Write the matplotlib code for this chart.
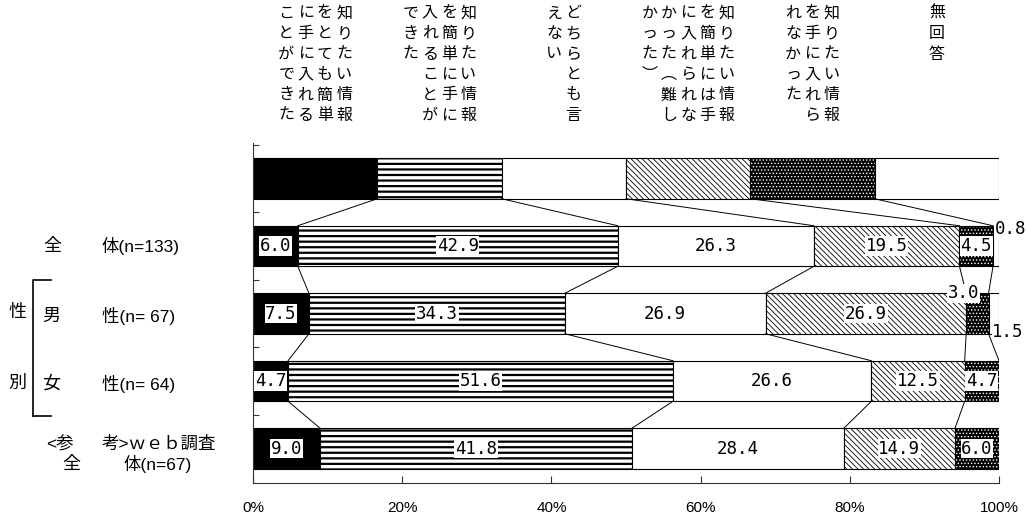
import numpy as np
import matplotlib.pyplot as plt

plt.rcParams['font.family'] = ['Noto Sans CJK JP', 'DejaVu Sans']

# answers (%), rows: 全体, 男性, 女性, web調査全体
very_easy = [6.0, 7.5, 4.7, 9.0]
easy = [42.9, 34.3, 51.6, 41.8]
neither = [26.3, 26.9, 26.6, 28.4]
hard = [19.5, 26.9, 12.5, 14.9]
failed = [4.5, 3.0, 4.7, 6.0]
no_answer = [0.8, 1.5, 0.0, 0.0]
series = [very_easy, easy, neither, hard, failed, no_answer]

headers = [
    "知りたい情報をとても簡単に手に入れることができた",
    "知りたい情報を簡単に手に入れることができた",
    "どちらとも言えない",
    "知りたい情報を簡単には手に入れられなかった︵難しかった︶",
    "知りたい情報を手に入れられなかった",
    "無回答",
]
xticks = [0, 20, 40, 60, 80, 100]
xtick_labels = ["0%", "20%", "40%", "60%", "80%", "100%"]

# face, hatch, hatch colour, hatch width
styles = [
    ("black", None, "black", 1.0),
    ("white", "---", "black", 1.6),
    ("white", None, "black", 1.0),
    ("white", "\\\\\\\\\\\\", "black", 0.6),
    ("black", ".....", "white", 0.6),
    ("white", None, "black", 1.0),
]

W, H = 1026, 518
fig = plt.figure(figsize=(W / 100, H / 100), dpi=100)
ax = fig.add_axes([253 / W, 35 / H, 746 / W, 340 / H])

n = len(series)
ypos = np.arange(len(very_easy) + 1)  # row 0 = legend bar
full = np.array([[100 / n] + list(s) for s in series])
cum = np.minimum(np.cumsum(full, axis=0), 100)
left = np.vstack([np.zeros(len(ypos)), cum[:-1]])
width = cum - left
bh = 0.6

for i, (face, hatch, hcol, hlw) in enumerate(styles):
    bars = ax.barh(ypos, width[i], left=left[i], height=bh, color=face,
                   edgecolor=hcol, linewidth=0, hatch=hatch)
    for b in bars:
        if hasattr(b, "set_hatch_linewidth"):
            b.set_hatch_linewidth(hlw)
    ax.barh(ypos, width[i], left=left[i], height=bh, fill=False,
            edgecolor="black", linewidth=0.8)

# connector lines between bars
for r in range(len(ypos) - 1):
    for k in range(n):
        ax.plot([cum[k, r], cum[k, r + 1]], [r + bh / 2, r + 1 - bh / 2],
                color="black", lw=0.7)

# value labels
special = {(1, 5): (99.4, 0.75, "left"), (2, 4): (95.3, 1.70, "center"),
           (2, 5): (99.1, 2.27, "left")}
for i, s in enumerate(series):
    for j, v in enumerate(s):
        r = j + 1
        if v == 0:
            continue
        x, y, ha = left[i, r] + width[i, r] / 2, r, "center"
        if (r, i) in special:
            x, y, ha = special[(r, i)]
        ax.text(x, y, f"{v:.1f}", ha=ha, va="center", fontsize=12.5,
                family="DejaVu Sans Mono",
                bbox=dict(facecolor="white", edgecolor="none", pad=0.5))

ax.set_xlim(0, 100)
ax.set_ylim(4.511, -0.526)
ax.set_xticks(xticks)
ax.set_xticklabels(xtick_labels, family="Liberation Sans", fontsize=11)
ax.set_yticks([-0.5, 0.5, 1.5, 2.5, 3.5])
ax.set_yticklabels([])
ax.tick_params(axis="x", direction="in", length=5, pad=13, color="#333333")
ax.tick_params(axis="y", direction="in", length=4, color="#333333")
for side in ["top", "right"]:
    ax.spines[side].set_visible(False)
for side in ["left", "bottom"]:
    ax.spines[side].set_color("#333333")
    ax.spines[side].set_linewidth(0.8)

# vertical headers above legend bar
for i, txt in enumerate(headers):
    cols = [txt[k:k + 6] for k in range(0, len(txt), 6)]
    xc = (i + 0.5) * 100 / n
    nc = len(cols)
    for c, col in enumerate(cols):
        dx = ((nc - 1) / 2 - c) * 19.3
        for rr, ch in enumerate(col):
            ax.annotate(ch, xy=(xc, H - 13 - rr * 20.5),
                        xycoords=("data", "figure pixels"),
                        xytext=(dx, 0), textcoords="offset pixels",
                        ha="center", va="center", fontsize=11.5,
                        annotation_clip=False)

# row labels
lab_font = ["Liberation Sans", "Noto Sans CJK JP"]


def rlabel(s, x, y, ha="left", size=12.5):
    ax.annotate(s, xy=(x, H - y), xycoords="figure pixels", ha=ha,
                va="center", fontsize=size, family=lab_font)


rlabel("全", 52, 246, "center", 13)
rlabel("体(n=133)", 102, 246)
rlabel("男", 51, 316, "center", 13)
rlabel("性(n= 67)", 102, 316)
rlabel("女", 51, 384, "center", 13)
rlabel("性(n= 64)", 102, 384)
rlabel("<参", 46, 444)
rlabel("考>ｗｅｂ調査", 102, 444)
rlabel("全", 71, 464, "center", 13)
rlabel("体(n=67)", 123, 464)
rlabel("性", 17, 312, "center", 13)
rlabel("別", 17, 383, "center", 13)

fig.add_artist(plt.Line2D([33 / W, 33 / W, 51 / W], [(H - 416) / H, (H - 280) / H, (H - 280) / H],
                          color="black", lw=1.2))
fig.add_artist(plt.Line2D([33 / W, 51 / W], [(H - 416) / H, (H - 416) / H],
                          color="black", lw=1.2))

fig.savefig("out.png", dpi=100)
